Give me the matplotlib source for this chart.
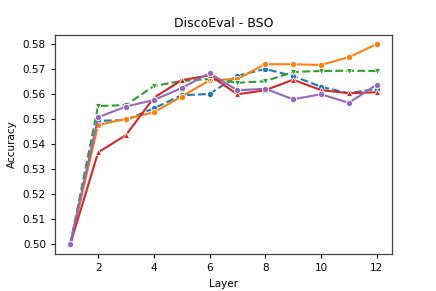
import numpy as np
import matplotlib
matplotlib.use("Agg")
from matplotlib import pyplot as plt

# data
layers = np.arange(1, 13)
s_blue = [0.500, 0.5493, 0.5496, 0.5543, 0.5595, 0.5600, 0.5673, 0.5700, 0.5672, 0.5629, 0.5603, 0.5621]
s_orange = [0.500, 0.5476, 0.5501, 0.5527, 0.5590, 0.5655, 0.5660, 0.5719, 0.5719, 0.5716, 0.5747, 0.5799]
s_green = [0.500, 0.5552, 0.5556, 0.5632, 0.5652, 0.5660, 0.5645, 0.5651, 0.5688, 0.5692, 0.5693, 0.5692]
s_red = [0.500, 0.5367, 0.5436, 0.5585, 0.5655, 0.5675, 0.5599, 0.5615, 0.5657, 0.5616, 0.5603, 0.5607]
s_purple = [0.500, 0.5507, 0.5550, 0.5576, 0.5624, 0.5683, 0.5615, 0.5621, 0.5579, 0.5599, 0.5565, 0.5637]

series = [
    (s_blue, "tab:blue", "o", "--"),
    (s_orange, "tab:orange", "o", "-"),
    (s_green, "tab:green", "v", "--"),
    (s_red, "tab:red", "^", "-"),
    (s_purple, "tab:purple", "o", "-"),
]

fig = plt.figure(figsize=(4.36, 2.91), dpi=100)
ax = fig.add_axes([0.126, 0.127, 0.773, 0.753])

for vals, col, mk, ls in series:
    ax.plot(layers, vals, color=col, marker=mk, linestyle=ls, linewidth=1.5,
            markersize=4.5, markeredgecolor="white", markeredgewidth=0.6)

ax.set_title("DiscoEval - BSO", fontsize=9)
ax.set_xlabel("Layer", fontsize=7.5)
ax.set_ylabel("Accuracy", fontsize=7.5)
ax.set_xticks([2, 4, 6, 8, 10, 12])
ax.set_yticks(np.arange(0.50, 0.581, 0.01))
ax.set_ylim(0.4961, 0.5836)
ax.tick_params(labelsize=7.5, length=3, width=0.8)
for sp in ax.spines.values():
    sp.set_color("#444444")
    sp.set_linewidth(0.9)

fig.savefig("out.png", dpi=100)
